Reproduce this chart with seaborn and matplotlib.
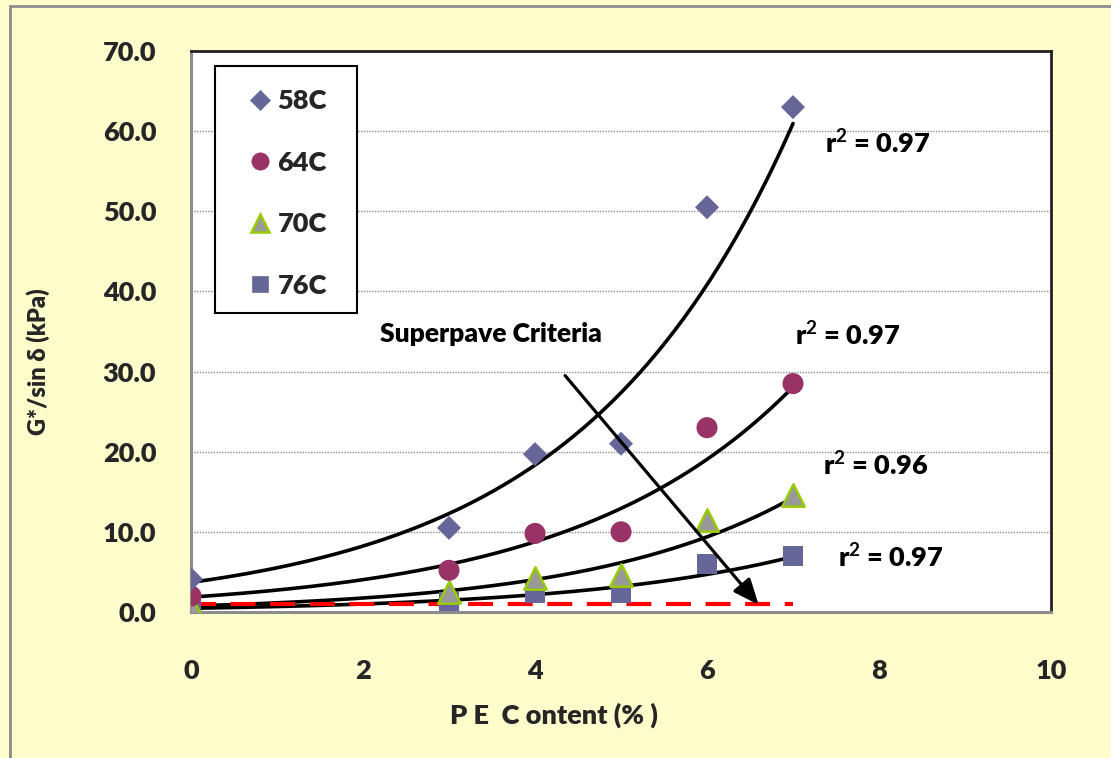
import numpy as np
import pandas as pd
import matplotlib
matplotlib.use("Agg")
import matplotlib.pyplot as plt
import seaborn as sns
from matplotlib.patches import Rectangle
from matplotlib.lines import Line2D
from matplotlib.font_manager import FontProperties

# ---- data ----
pe_content = [0, 3, 4, 5, 6, 7]
g58 = [4.1, 10.5, 19.7, 21.0, 50.5, 63.0]
g64 = [2.0, 5.2, 9.8, 10.0, 23.0, 28.5]
g70 = [0.8, 2.5, 4.3, 4.6, 11.5, 14.6]
g76 = [0.5, 1.3, 2.4, 2.3, 6.0, 7.0]
series_names = ["58C", "64C", "70C", "76C"]
r2_labels = ["r$^{2}$ = 0.97", "r$^{2}$ = 0.97", "r$^{2}$ = 0.96", "r$^{2}$ = 0.97"]
r2_pos = [(7.37, 58.5), (7.02, 34.5), (7.35, 18.3), (7.52, 6.8)]
criteria_value = 1.0
criteria_x = [0, 7]
xticks = [0, 2, 4, 6, 8, 10]
yticks = [0, 10, 20, 30, 40, 50, 60, 70]

sns.set_theme(style="white")
plt.rcParams['font.family'] = ['Lato', 'DejaVu Sans']
plt.rcParams['font.weight'] = 'bold'
plt.rcParams['mathtext.fontset'] = 'custom'
plt.rcParams['mathtext.rm'] = 'Lato:bold'
plt.rcParams['mathtext.default'] = 'rm'


def fp(size):
    return FontProperties(family=['Lato', 'DejaVu Sans'], weight='heavy', size=size)


fig = plt.figure(figsize=(11.11, 7.58), dpi=100)
fig.patch.set_facecolor("#FFFDCC")
W, H = 1111, 758
ax = fig.add_axes([191 / W, 1 - 612 / H, (1051 - 191) / W, (612 - 51) / H])
ax.set_facecolor("white")

# figure border
fig.patches.append(Rectangle((10 / W, -0.05), 1.2, 1 - 6 / H + 0.05, transform=fig.transFigure,
                             fill=False, edgecolor="#8c8c8c", linewidth=2, zorder=0))

styles = {
    "58C": dict(marker="D", color="#666699", edgecolor="none", s=150),
    "64C": dict(marker="o", color="#993366", edgecolor="none", s=230),
    "70C": dict(marker="^", color="#999999", edgecolor="#99CC00", s=260, linewidth=1.8),
    "76C": dict(marker="s", color="#666699", edgecolor="none", s=200),
}
data = {"58C": g58, "64C": g64, "70C": g70, "76C": g76}

# trend lines (exponential fits)
xs = np.linspace(0, 7, 200)
for name in series_names:
    y = np.array(data[name])
    b, a = np.polyfit(pe_content, np.log(y), 1)
    ax.plot(xs, np.exp(a + b * xs), color="black", lw=2.6, zorder=3)

# criteria line
ax.plot(criteria_x, [criteria_value, criteria_value], color="#FF0000", lw=3,
        dashes=(6, 3.5), zorder=4)

for name in ["76C", "70C", "64C", "58C"]:
    st = styles[name]
    df = pd.DataFrame({"x": pe_content, "y": data[name]})
    sns.scatterplot(data=df, x="x", y="y", ax=ax, marker=st["marker"], color=st["color"],
                    edgecolor=st["edgecolor"], s=st["s"], linewidth=st.get("linewidth", 0),
                    zorder=5, legend=False)
handles = []
for name in series_names:
    st = styles[name]
    handles.append(Line2D([], [], linestyle="none", marker=st["marker"],
                          markerfacecolor=st["color"],
                          markeredgecolor=st["edgecolor"] if st["edgecolor"] != "none" else st["color"],
                          markeredgewidth=st.get("linewidth", 0.5),
                          markersize=np.sqrt(st["s"]) * 0.82, label=name))

# legend frame drawn as a box, entries inside
ax.add_patch(Rectangle((24 / 860, (612 - 313) / 561), (357 - 215) / 860, (313 - 66) / 561,
                       transform=ax.transAxes, facecolor="white", edgecolor="black",
                       linewidth=1.5, zorder=9))
leg = ax.legend(handles=handles, loc="upper left",
                bbox_to_anchor=((249 - 191) / 860, (612 - 89) / 561),
                borderaxespad=0, borderpad=0, frameon=False,
                labelspacing=1.39, handletextpad=0.25, handlelength=0.8,
                prop=fp(19.5))
leg.set_zorder(10)

# arrow and text
ax.annotate("", xy=(6.6, 0.9), xytext=(4.35, 29.5),
            arrowprops=dict(arrowstyle="-|>,head_length=1.3,head_width=0.55", color="black",
                            lw=2.3, shrinkA=0, shrinkB=0), zorder=6)
ax.text(3.49, 34.7, "Superpave Criteria", ha="center", va="center",
        fontproperties=fp(19), color="black")

for lab, (x, y) in zip(r2_labels, r2_pos):
    ax.text(x, y, lab, ha="left", va="center", fontproperties=fp(19.5), color="black")

ax.set_xlim(0, 10)
ax.set_ylim(0, 70)
ax.set_xticks(xticks)
ax.set_yticks(yticks)
ax.set_xticklabels([str(t) for t in xticks])
ax.set_yticklabels([f"{t:.1f}" for t in yticks])
ax.tick_params(axis="both", which="major", direction="out", length=7,
               width=1.5, color="#8c8c8c")
ax.tick_params(axis="x", pad=27)
ax.tick_params(axis="y", pad=18)
for lbl in ax.get_xticklabels() + ax.get_yticklabels():
    lbl.set_fontproperties(fp(19.5))

ax.yaxis.grid(True, linestyle=(0, (1, 1)), color="#8c8c8c", linewidth=1)
ax.xaxis.grid(False)
ax.set_axisbelow(True)

for side in ["left", "bottom"]:
    ax.spines[side].set_color("#8c8c8c")
    ax.spines[side].set_linewidth(2.2)
for side in ["top", "right"]:
    ax.spines[side].set_color("#222222")
    ax.spines[side].set_linewidth(2)
ax.spines["top"].set_zorder(7)

ax.set_xlabel("P E  C ontent (% )", fontproperties=fp(19.5))
ax.xaxis.set_label_coords((554 - 191) / 860, (612 - 703) / 561)
ax.set_ylabel("G*/sin δ (kPa)", fontproperties=fp(17))
ax.yaxis.set_label_coords((50 - 191) / 860, (612 - 362) / 561)

fig.savefig("out.png", dpi=100, facecolor=fig.get_facecolor())
